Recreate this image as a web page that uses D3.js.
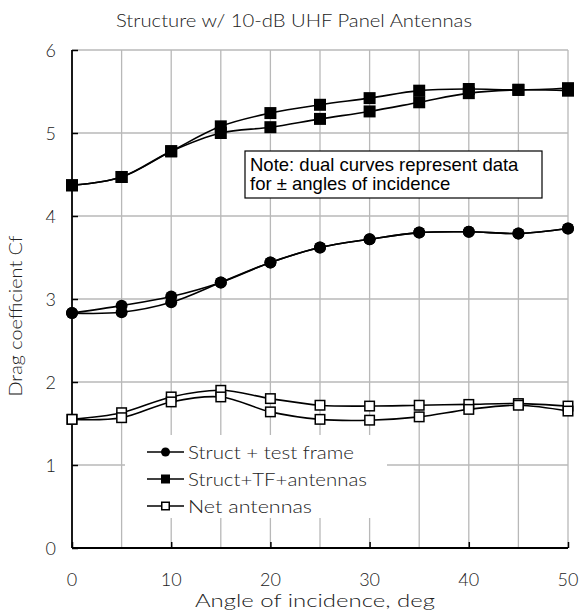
<!DOCTYPE html>
<html>
<head>
<meta charset="utf-8">
<title>Structure w/ 10-dB UHF Panel Antennas</title>
<script src="https://d3js.org/d3.v7.min.js"></script>
<style>
  body { margin: 0; background: #fff; }
  svg { display: block; }
  .lbl { font-family: "Lato", "Open Sans", sans-serif; font-weight: 300; fill: #222; }
</style>
</head>
<body>
<svg id="chart" width="579" height="611"></svg>
<script>
// data
var angles = [0, 5, 10, 15, 20, 25, 30, 35, 40, 45, 50];
// Struct + test frame (two curves, +/- angle)
var frameA = [2.83, 2.92, 3.03, 3.20, 3.44, 3.62, 3.72, 3.80, 3.81, 3.79, 3.85];
var frameB = [2.83, 2.84, 2.96, 3.20, 3.44, 3.62, 3.72, 3.80, 3.81, 3.79, 3.85];
// Struct+TF+antennas
var fullA = [4.37, 4.47, 4.78, 5.08, 5.24, 5.34, 5.42, 5.51, 5.53, 5.52, 5.54];
var fullB = [4.37, 4.47, 4.78, 5.00, 5.07, 5.17, 5.26, 5.37, 5.48, 5.52, 5.51];
// Net antennas
var netA = [1.55, 1.63, 1.82, 1.90, 1.80, 1.72, 1.71, 1.72, 1.73, 1.74, 1.71];
var netB = [1.55, 1.57, 1.76, 1.82, 1.64, 1.55, 1.54, 1.58, 1.67, 1.72, 1.65];
var legendNames = ["Struct + test frame", "Struct+TF+antennas", "Net antennas"];
var xTicks = [0, 10, 20, 30, 40, 50];
var yTicks = [0, 1, 2, 3, 4, 5, 6];

var svg = d3.select("#chart");
var pL = 72, pR = 568, pT = 50, pB = 548;

var x = d3.scaleLinear().domain([0, 50]).range([pL, pR]);
var y = d3.scaleLinear().domain([0, 6]).range([pB, pT]);

// grid
var grid = svg.append("g").attr("stroke", "#b8b8b8").attr("stroke-width", 1.3);
grid.selectAll("line.v").data(d3.range(5, 51, 5)).enter().append("line")
    .attr("x1", d => x(d)).attr("x2", d => x(d)).attr("y1", pT).attr("y2", pB);
grid.selectAll("line.h").data(d3.range(1, 7)).enter().append("line")
    .attr("x1", pL).attr("x2", pR).attr("y1", d => y(d)).attr("y2", d => y(d));

// axes (inward ticks)
var xAxis = d3.axisTop(x).tickValues(xTicks).tickSize(6).tickFormat("");
svg.append("g").attr("transform", "translate(0," + pB + ")").call(xAxis)
    .call(g => g.select(".domain").remove())
    .selectAll("line").attr("stroke", "#000").attr("stroke-width", 1.5);
var yAxis = d3.axisRight(y).tickValues(yTicks).tickSize(6).tickFormat("");
svg.append("g").attr("transform", "translate(" + pL + ",0)").call(yAxis)
    .call(g => g.select(".domain").remove())
    .selectAll("line").attr("stroke", "#000").attr("stroke-width", 1.5);
svg.append("line").attr("x1", pL).attr("x2", pL).attr("y1", pT).attr("y2", pB)
    .attr("stroke", "#000").attr("stroke-width", 1.8);
svg.append("line").attr("x1", pL).attr("x2", pR).attr("y1", pB).attr("y2", pB)
    .attr("stroke", "#000").attr("stroke-width", 1.8);

// tick labels
svg.selectAll("text.xt").data(xTicks).enter().append("text")
    .attr("class", "lbl").attr("x", d => x(d)).attr("y", 586)
    .attr("text-anchor", "middle").style("font-size", "18px").text(d => d);
svg.selectAll("text.yt").data(yTicks).enter().append("text")
    .attr("class", "lbl").attr("x", 56).attr("y", d => y(d) + 6.5)
    .attr("text-anchor", "end").style("font-size", "18px").text(d => d);

// titles (stretched to the wide face of the original)
svg.append("text").attr("class", "lbl").attr("x", 294).attr("y", 27)
    .attr("text-anchor", "middle").style("font-size", "17px")
    .attr("textLength", 356).attr("lengthAdjust", "spacingAndGlyphs")
    .text("Structure w/ 10-dB UHF Panel Antennas");
svg.append("text").attr("class", "lbl").attr("x", 315).attr("y", 607)
    .attr("text-anchor", "middle").style("font-size", "18px")
    .attr("textLength", 240).attr("lengthAdjust", "spacingAndGlyphs")
    .text("Angle of incidence, deg");
svg.append("text").attr("class", "lbl")
    .attr("transform", "translate(22,316) rotate(-90)")
    .attr("text-anchor", "middle").style("font-size", "18px")
    .attr("textLength", 161).attr("lengthAdjust", "spacingAndGlyphs")
    .text("Drag coefficient Cf");

// note box
var note = svg.append("g");
note.append("rect").attr("x", 245).attr("y", 151).attr("width", 297).attr("height", 47)
    .attr("fill", "#fff").attr("stroke", "#000").attr("stroke-width", 1.2);
note.append("text").attr("x", 250).attr("y", 171)
    .style("font-family", "'Liberation Sans', Arial, sans-serif").style("font-size", "18.5px")
    .text("Note: dual curves represent data");
note.append("text").attr("x", 250).attr("y", 190)
    .style("font-family", "'Liberation Sans', Arial, sans-serif").style("font-size", "18.5px")
    .text("for \u00b1 angles of incidence");

// series
var line = d3.line().x((d, i) => x(angles[i])).y(d => y(d)).curve(d3.curveCatmullRom.alpha(0.5));

function drawLines(arr) {
  arr.forEach(function(vals) {
    svg.append("path").attr("d", line(vals)).attr("fill", "none")
      .attr("stroke", "#000").attr("stroke-width", 1.6);
  });
}
function marker(g, kind, cx, cy, s) {
  if (kind === "circle") {
    g.append("circle").attr("cx", cx).attr("cy", cy).attr("r", s / 2).attr("fill", "#000");
  } else if (kind === "square") {
    g.append("rect").attr("x", cx - s / 2).attr("y", cy - s / 2).attr("width", s).attr("height", s).attr("fill", "#000");
  } else {
    g.append("rect").attr("x", cx - s / 2 + 0.75).attr("y", cy - s / 2 + 0.75)
      .attr("width", s - 1.5).attr("height", s - 1.5)
      .attr("fill", "#fff").attr("stroke", "#000").attr("stroke-width", 1.5);
  }
}
function drawMarkers(arr, kind, s) {
  var g = svg.append("g");
  arr.forEach(function(vals) {
    vals.forEach(function(v, i) { marker(g, kind, x(angles[i]), y(v), s); });
  });
}

drawLines([netA, netB]);
drawMarkers([netA, netB], "open", 11);
drawLines([frameA, frameB]);
drawMarkers([frameA, frameB], "circle", 12);
drawLines([fullA, fullB]);
drawMarkers([fullA, fullB], "square", 12);

// legend
var leg = svg.append("g");
leg.append("rect").attr("x", 125).attr("y", 435).attr("width", 262).attr("height", 83).attr("fill", "#fff");
var kinds = ["circle", "square", "open"];
var rowY = [452, 479, 506];
var legendLen = [166, 179, 124];
legendNames.forEach(function(name, i) {
  leg.append("line").attr("x1", 147).attr("x2", 184).attr("y1", rowY[i]).attr("y2", rowY[i])
    .attr("stroke", "#000").attr("stroke-width", 1.6);
  marker(leg, kinds[i], 165.5, rowY[i], 9);
  leg.append("text").attr("class", "lbl").attr("x", 188).attr("y", rowY[i] + 6.5)
    .style("font-size", "18px")
    .attr("textLength", legendLen[i]).attr("lengthAdjust", "spacingAndGlyphs")
    .text(name);
});
</script>
</body>
</html>
